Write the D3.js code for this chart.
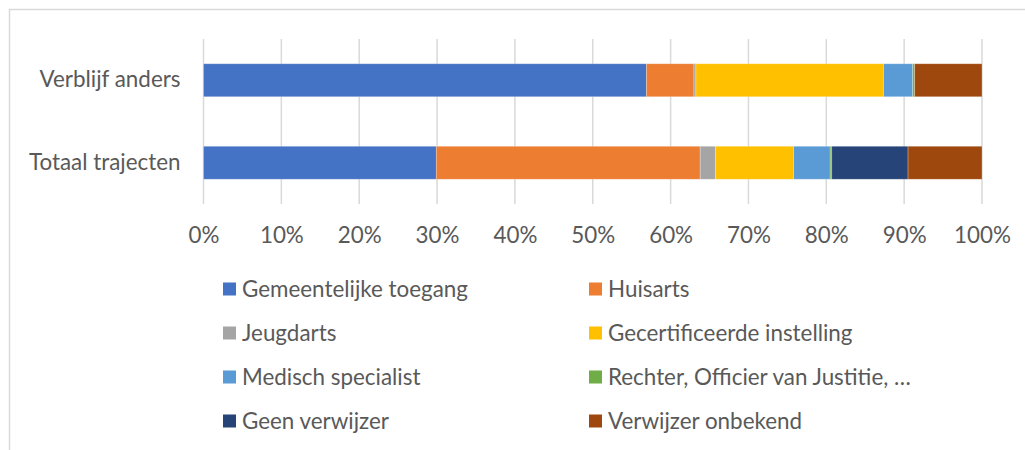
<!DOCTYPE html>
<html>
<head>
<meta charset="utf-8">
<script src="https://cdn.jsdelivr.net/npm/d3@7"></script>
<style>
  html, body { margin: 0; padding: 0; background: #fff; }
  svg { display: block; font-family: Lato, "Open Sans", sans-serif; }
</style>
</head>
<body>
<div id="chart"></div>
<script>
// Categories (top to bottom) and referrer series, share in %
const categories = ["Verblijf anders", "Totaal trajecten"];
const seriesNames = [
  "Gemeentelijke toegang", "Huisarts", "Jeugdarts", "Gecertificeerde instelling",
  "Medisch specialist", "Rechter, Officier van Justitie, …", "Geen verwijzer", "Verwijzer onbekend"
];
const verblijfAnders  = [56.9, 6.1, 0.25, 24.1, 3.75, 0.25, 0, 8.65];
const totaalTrajecten = [29.9, 33.9, 1.95, 10.05, 4.7, 0.2, 9.8, 9.5];
const colors = ["#4472C4", "#ED7D31", "#A5A5A5", "#FFC000", "#5B9BD5", "#70AD47", "#264478", "#9E480E"];
const xTicks = [0, 10, 20, 30, 40, 50, 60, 70, 80, 90, 100];

const W = 1025, H = 450;
const M = { top: 39, left: 203.5, right: 43 };
const iW = W - M.left - M.right;
const iH = 204 - M.top;
const FONT = "22.4px";

const svg = d3.select("#chart").append("svg").attr("width", W).attr("height", H);

// Chart area border (cropped on right and bottom)
svg.append("path").attr("d", `M9.5,${H} V9.5 H${W}`)
  .attr("fill", "none").attr("stroke", "#d9d9d9").attr("stroke-width", 1.5);

const g = svg.append("g").attr("transform", `translate(${M.left},${M.top})`);

const x = d3.scaleLinear().domain([0, 100]).range([0, iW]);
const y = d3.scaleBand().domain(categories).range([0, iH]).paddingInner(0.6).paddingOuter(0.3);

// Grid
g.append("g").selectAll("line").data(xTicks).join("line")
  .attr("x1", d => x(d)).attr("x2", d => x(d)).attr("y1", 0).attr("y2", iH)
  .attr("stroke", "#d9d9d9").attr("stroke-width", 1.5);

// Stacked bars
const rows = [verblijfAnders, totaalTrajecten];
const table = categories.map((c, i) => {
  const o = { cat: c };
  seriesNames.forEach((s, j) => o[s] = rows[i][j]);
  return o;
});
const stacked = d3.stack().keys(seriesNames)(table);

g.selectAll(".series").data(stacked).join("g")
  .attr("fill", (d, i) => colors[i])
  .selectAll("rect").data(d => d).join("rect")
  .attr("x", d => x(d[0])).attr("width", d => x(d[1]) - x(d[0]))
  .attr("y", d => y(d.data.cat)).attr("height", y.bandwidth())
  .attr("stroke", "#fff").attr("stroke-opacity", 0.35).attr("stroke-width", 0.75);

// X axis labels
const xAxis = g.append("g").attr("transform", `translate(0,${iH})`)
  .call(d3.axisBottom(x).tickValues(xTicks).tickFormat(d => d + "%").tickSize(0).tickPadding(23));
xAxis.select(".domain").remove();
xAxis.selectAll("text").attr("font-size", FONT).attr("fill", "#595959")
  .attr("font-family", "Lato, sans-serif");

// Category labels
const yAxis = g.append("g")
  .call(d3.axisLeft(y).tickSize(0).tickPadding(23));
yAxis.select(".domain").remove();
yAxis.selectAll("text").attr("font-size", FONT).attr("fill", "#595959")
  .attr("font-family", "Lato, sans-serif");

// Legend, two columns
const legend = svg.append("g");
const item = legend.selectAll("g").data(seriesNames).join("g")
  .attr("transform", (d, i) => `translate(${i % 2 === 0 ? 223 : 589},${289 + Math.floor(i / 2) * 44})`);
item.append("rect").attr("x", 0).attr("y", -6.5).attr("width", 13).attr("height", 13)
  .attr("fill", (d, i) => colors[i]);
item.append("text").attr("x", 19).attr("y", 0).attr("dy", "0.35em")
  .attr("font-size", FONT).attr("fill", "#595959").text(d => d);
</script>
</body>
</html>
